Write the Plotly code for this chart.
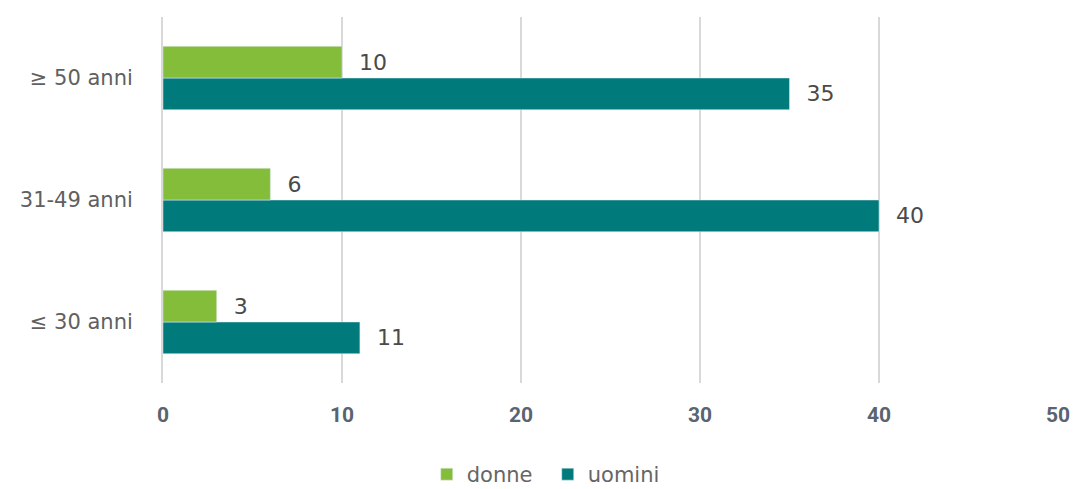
import plotly.graph_objects as go

categories = ["≤ 30 anni", "31-49 anni", "≥ 50 anni"]
donne = [3, 6, 10]
uomini = [11, 40, 35]
x_ticks = [0, 10, 20, 30, 40, 50]

label_font = dict(size=22, color="#4a4a4a", family="DejaVu Sans")

fig = go.Figure()
fig.add_trace(go.Bar(
    y=categories, x=uomini, orientation="h", name="uomini",
    marker=dict(color="#007a7a"),
    text=uomini, texttemplate="  %{x}", textposition="outside", cliponaxis=False,
    textfont=label_font,
))
fig.add_trace(go.Bar(
    y=categories, x=donne, orientation="h", name="donne",
    marker=dict(color="#84bd3a"),
    text=donne, texttemplate="  %{x}", textposition="outside", cliponaxis=False,
    textfont=label_font,
))

fig.update_layout(
    width=1074, height=489,
    margin=dict(l=163, r=16, t=17, b=106, autoexpand=False),
    plot_bgcolor="white", paper_bgcolor="white",
    barmode="group", bargap=0.48, bargroupgap=0,
    font=dict(family="DejaVu Sans", color="#595959"),
    showlegend=True,
    legend=dict(orientation="h", xref="container", x=0.51, xanchor="center",
                y=-0.25, yanchor="middle",
                traceorder="reversed", font=dict(size=21, color="#666666", family="DejaVu Sans"),
                itemwidth=30, entrywidth=76),
    xaxis=dict(range=[0, 50], tickvals=x_ticks, showgrid=True, gridcolor="#d9d9d9",
               gridwidth=2, zeroline=False, showline=False, automargin=False,
               tickfont=dict(size=21, color="#5a6470", family="Roboto", weight=700),
               ticklabelstandoff=17),
    yaxis=dict(categoryorder="array", categoryarray=categories, showline=True,
               linecolor="#d9d9d9", linewidth=2, showgrid=False, automargin=False,
               tickfont=dict(size=21, color="#606060", family="DejaVu Sans"),
               ticklabelstandoff=24),
)

fig.write_html("out.html", config={"displayModeBar": False},
               post_script="document.body.style.margin='0';document.body.style.overflow='hidden';")
